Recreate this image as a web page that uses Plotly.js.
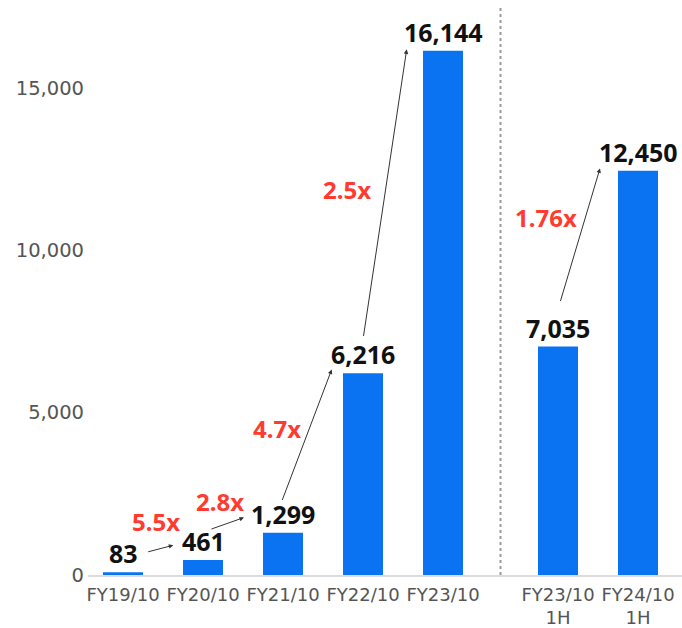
<!DOCTYPE html>
<html>
<head>
<meta charset="utf-8">
<script src="https://cdn.plot.ly/plotly-3.0.1.min.js"></script>
<style>html,body{margin:0;padding:0;background:#fff;}#chart{width:682px;height:628px;}</style>
</head>
<body>
<div id="chart"></div>
<script>
// ---- data ----
const categories = ['FY19/10','FY20/10','FY21/10','FY22/10','FY23/10','FY23/10<br>1H','FY24/10<br>1H'];
const values = [83, 461, 1299, 6216, 16144, 7035, 12450];
const growthLabels = ['5.5x','2.8x','4.7x','2.5x','1.76x'];
const growthFrom = [0, 1, 2, 3, 5];
const growthTo   = [1, 2, 3, 4, 6];
const yTickVals = [0, 5000, 10000, 15000];

// ---- layout constants ----
const W = 682, H = 628;
const M = {l: 88, r: 0, t: 7, b: 53};
const groupGap = 0.4375;
const xpos = categories.map((c, i) => i + (i >= 5 ? groupGap : 0));
const xRange = [-0.4375, 6.9875];
const yRange = [0, 17495];
const ppx = (W - M.l - M.r) / (xRange[1] - xRange[0]);
const ppy = (H - M.t - M.b) / (yRange[1] - yRange[0]);

// arrow offsets in pixels (x right, y up): tail relative to source bar top, head relative to target bar top
const tailOff = [[23.7, 20.1], [7, 30.5], [-1.3, 31.3], [0.3, 35.7], [2, 44]];
const headOff = [[-29.7, 14.8], [-39, 15.3], [-31.3, 3.7], [-36.3, 1.5], [-38, 2.4]];
const growthOff = [[-47, 39], [-63, 31.8], [-86, -55.8], [-96, -138.5], [-92, -46.6]];

const annotations = [];
values.forEach((v, i) => {
  annotations.push({
    x: xpos[i], y: v, xref: 'x', yref: 'y', text: v.toLocaleString('en-US'),
    showarrow: false, yanchor: 'bottom', xanchor: 'center', yshift: 0,
    font: {family: 'Noto Sans', size: 25, color: '#111', weight: 700}
  });
});
growthLabels.forEach((g, k) => {
  const s = growthFrom[k], t = growthTo[k];
  const [tx, ty] = tailOff[k], [hx, hy] = headOff[k];
  annotations.push({
    x: xpos[t], y: values[t], xref: 'x', yref: 'y', text: '',
    xshift: hx, yshift: hy, showarrow: true,
    axref: 'pixel', ayref: 'pixel',
    ax: (xpos[s] - xpos[t]) * ppx + tx - hx,
    ay: (values[t] - values[s]) * ppy - ty + hy,
    arrowhead: 2, arrowsize: 0.9, arrowwidth: 1, arrowcolor: '#333'
  });
  annotations.push({
    x: xpos[t], y: values[t], xref: 'x', yref: 'y', text: g,
    xshift: growthOff[k][0], yshift: growthOff[k][1], showarrow: false,
    xanchor: 'center', yanchor: 'middle',
    font: {family: 'Noto Sans', size: 24, color: '#ff3b30', weight: 700}
  });
});

const trace = {
  type: 'bar', x: xpos, y: values, width: 0.5,
  marker: {color: '#0a73f2'}, hoverinfo: 'skip', cliponaxis: false
};

const layout = {
  width: W, height: H, margin: M,
  paper_bgcolor: '#fff', plot_bgcolor: '#fff',
  showlegend: false,
  xaxis: {
    range: xRange, tickvals: xpos, ticktext: categories,
    showgrid: false, zeroline: false, showline: true, linecolor: '#dcdcdc', linewidth: 2,
    ticks: '', ticklabelstandoff: 2,
    tickfont: {family: 'DejaVu Sans', size: 18, color: '#555'}, tickangle: 0
  },
  yaxis: {
    range: yRange, tickvals: yTickVals, tickformat: ',',
    showgrid: false, zeroline: false, showline: false, ticks: '', ticklabelstandoff: 3,
    tickfont: {family: 'DejaVu Sans', size: 19.5, color: '#555'}
  },
  shapes: [{
    type: 'line', xref: 'x', yref: 'paper', x0: 4.5 + groupGap / 2, x1: 4.5 + groupGap / 2, y0: 0, y1: 1,
    line: {color: '#999', width: 2, dash: 'dot'}
  }],
  annotations: annotations
};

Plotly.newPlot('chart', [trace], layout, {staticPlot: true, displayModeBar: false});
</script>
</body>
</html>
